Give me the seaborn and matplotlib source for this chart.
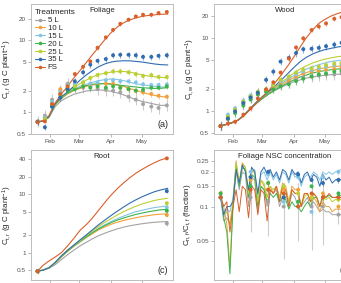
import numpy as np
import pandas as pd
import seaborn as sns
import matplotlib.pyplot as plt
from matplotlib.lines import Line2D
from matplotlib.colors import to_rgba

sns.set_style('white')
plt.rcParams['font.family'] = ['Liberation Sans', 'DejaVu Sans']
plt.rcParams['mathtext.fontset'] = 'custom'
plt.rcParams['mathtext.rm'] = 'Liberation Sans'
plt.rcParams['mathtext.it'] = 'Liberation Sans'

treatments = ['5 L', '10 L', '15 L', '20 L', '25 L', '35 L', 'FS']
colors = ['#a3a3a3', '#f2a03a', '#84c4e4', '#3cb44a', '#bccf34', '#2f6cb0', '#d8602b']
month_ticks = [32, 60, 91, 121]
month_labels = ['Feb', 'Mar', 'Apr', 'May']

# day of year for the model lines and the harvests
line_days = [19, 25, 31, 37, 43, 49, 55, 61, 67, 73, 79, 85, 91, 97, 103, 109, 115, 121, 127, 133, 139, 146]
obs_days = [20, 27, 34, 42, 49, 56, 64, 71, 78, 86, 93, 100, 108, 115, 122, 130, 137, 145]

# foliage C (g C plant-1)
fol_line = {
    '5 L': [0.74, 0.75, 0.85, 1.2, 1.45, 1.62, 1.78, 1.88, 1.98, 2.02, 2.05, 2.02, 1.96, 1.86, 1.75, 1.62, 1.5, 1.42, 1.36, 1.3, 1.25, 1.25],
    '10 L': [0.74, 0.75, 0.86, 1.28, 1.55, 1.8, 2.0, 2.15, 2.3, 2.4, 2.48, 2.52, 2.5, 2.42, 2.3, 2.15, 2.02, 1.9, 1.8, 1.72, 1.66, 1.62],
    '15 L': [0.74, 0.75, 0.86, 1.3, 1.6, 1.85, 2.1, 2.3, 2.45, 2.6, 2.75, 2.85, 2.9, 2.86, 2.76, 2.62, 2.5, 2.42, 2.36, 2.3, 2.26, 2.22],
    '20 L': [0.74, 0.75, 0.86, 1.28, 1.58, 1.85, 2.05, 2.2, 2.35, 2.45, 2.5, 2.5, 2.46, 2.4, 2.35, 2.3, 2.25, 2.2, 2.17, 2.15, 2.16, 2.2],
    '25 L': [0.74, 0.75, 0.86, 1.3, 1.62, 1.9, 2.2, 2.5, 2.8, 3.1, 3.35, 3.5, 3.62, 3.68, 3.7, 3.62, 3.48, 3.32, 3.2, 3.12, 3.06, 3.02],
    '35 L': [0.74, 0.75, 0.87, 1.32, 1.65, 1.92, 2.3, 2.8, 3.3, 3.8, 4.3, 4.7, 5.0, 5.15, 5.2, 5.2, 5.1, 5.0, 4.85, 4.7, 4.6, 4.55],
    'FS': [0.74, 0.76, 0.9, 1.35, 1.8, 2.3, 3.0, 3.8, 4.9, 6.3, 8.0, 10.2, 12.8, 15.3, 17.5, 19.2, 20.5, 21.5, 22.2, 22.6, 23.0, 23.2],
}
fol_obs = {
    '5 L': [0.74, 0.9, 1.5, 2.0, 2.5, 2.3, 2.2, 2.3, 2.1, 2.05, 2.0, 1.9, 1.65, 1.5, 1.3, 1.2, 1.15, 1.25],
    '10 L': [0.74, 0.85, 1.4, 2.1, 2.4, 2.5, 2.3, 2.4, 2.4, 2.5, 2.5, 2.2, 2.1, 2.0, 1.9, 1.8, 1.7, 1.65],
    '15 L': [0.74, 0.85, 1.4, 1.9, 2.4, 2.5, 2.6, 2.5, 2.6, 2.8, 2.8, 2.7, 2.7, 2.6, 2.45, 2.4, 2.4, 2.45],
    '20 L': [0.74, 0.8, 1.2, 1.7, 2.0, 2.1, 2.3, 2.2, 2.3, 2.2, 2.3, 2.2, 2.1, 2.0, 2.05, 2.2, 2.2, 2.3],
    '25 L': [0.74, 0.8, 1.3, 1.8, 2.2, 2.3, 2.6, 3.0, 3.3, 3.5, 3.7, 3.7, 3.6, 3.4, 3.2, 3.3, 3.1, 3.1],
    '35 L': [0.74, 0.62, 1.2, 1.6, 2.1, 2.7, 3.6, 4.6, 5.2, 5.5, 6.2, 6.3, 6.3, 6.2, 5.9, 5.9, 6.1, 6.2],
    'FS': [0.73, 0.75, 1.3, 1.8, 2.3, 3.4, 4.3, 5.1, 7.9, 11.0, 14.0, 17.0, 19.4, 21.5, 22.7, 22.7, 24.0, 24.8],
}
fol_err = [0.2, 0.1, 0.1, 0.08, 0.1, 0.1, 0.06]

# wood C
wood_line = {
    '5 L': [0.63, 0.66, 0.7, 0.76, 0.9, 1.08, 1.3, 1.52, 1.74, 1.95, 2.15, 2.35, 2.55, 2.7, 2.85, 2.95, 3.05, 3.12, 3.18, 3.22, 3.25, 3.28],
    '10 L': [0.63, 0.66, 0.7, 0.76, 0.9, 1.1, 1.34, 1.58, 1.82, 2.05, 2.3, 2.6, 2.9, 3.15, 3.4, 3.6, 3.8, 3.95, 4.05, 4.15, 4.2, 4.25],
    '15 L': [0.63, 0.66, 0.7, 0.76, 0.9, 1.1, 1.35, 1.6, 1.86, 2.1, 2.4, 2.75, 3.1, 3.45, 3.8, 4.1, 4.35, 4.6, 4.8, 4.95, 5.05, 5.1],
    '20 L': [0.63, 0.66, 0.7, 0.76, 0.9, 1.08, 1.3, 1.52, 1.75, 1.98, 2.2, 2.45, 2.7, 2.95, 3.15, 3.35, 3.5, 3.62, 3.72, 3.8, 3.85, 3.9],
    '25 L': [0.63, 0.66, 0.7, 0.76, 0.9, 1.1, 1.35, 1.6, 1.88, 2.15, 2.5, 2.9, 3.35, 3.8, 4.2, 4.6, 4.9, 5.2, 5.4, 5.6, 5.75, 5.85],
    '35 L': [0.63, 0.66, 0.7, 0.76, 0.9, 1.1, 1.35, 1.62, 1.9, 2.25, 2.7, 3.3, 4.0, 4.8, 5.5, 6.1, 6.6, 7.0, 7.3, 7.6, 7.8, 8.0],
    'FS': [0.62, 0.66, 0.7, 0.76, 0.88, 1.08, 1.32, 1.6, 1.96, 2.5, 3.2, 4.2, 5.6, 7.6, 10.2, 13.0, 16.0, 18.2, 20.2, 21.8, 23.2, 24.5],
}
wood_obs = {
    '5 L': [0.63, 0.78, 1.0, 1.25, 1.55, 1.75, 1.9, 2.1, 2.3, 2.5, 2.8, 2.9, 3.0, 3.1, 3.2, 3.2, 3.3, 3.3],
    '10 L': [0.63, 0.85, 1.05, 1.35, 1.6, 1.8, 1.95, 2.2, 2.5, 2.7, 3.0, 3.3, 3.5, 3.6, 3.7, 3.8, 4.0, 4.1],
    '15 L': [0.63, 0.9, 1.1, 1.4, 1.65, 1.85, 2.0, 2.3, 2.6, 2.9, 3.2, 3.5, 3.7, 3.9, 4.1, 4.3, 4.4, 4.6],
    '20 L': [0.63, 0.8, 0.95, 1.2, 1.45, 1.7, 1.85, 2.0, 2.2, 2.35, 2.6, 2.8, 3.0, 3.2, 3.3, 3.5, 3.6, 3.7],
    '25 L': [0.63, 0.85, 1.05, 1.35, 1.6, 1.85, 2.0, 2.3, 2.7, 3.0, 3.4, 3.7, 3.9, 4.1, 4.3, 4.5, 4.6, 4.8],
    '35 L': [0.63, 0.8, 1.0, 1.3, 1.55, 1.8, 2.7, 3.5, 4.8, 5.4, 6.3, 7.1, 7.2, 7.4, 7.8, 8.2, 8.7, 8.6],
    'FS': [0.63, 0.68, 0.72, 0.9, 1.1, 1.5, 2.0, 2.5, 3.4, 5.3, 7.5, 10.0, 13.0, 14.5, 16.0, 18.5, 19.5, 21.0],
}
wood_err = [0.18, 0.12, 0.12, 0.12, 0.12, 0.12, 0.08]

# root C: only start and final harvest
root_line = {
    '5 L': [0.48, 0.5, 0.54, 0.62, 0.76, 0.92, 1.1, 1.3, 1.5, 1.72, 1.95, 2.15, 2.35, 2.55, 2.72, 2.88, 3.0, 3.12, 3.22, 3.3, 3.36, 3.4],
    '10 L': [0.48, 0.5, 0.55, 0.66, 0.84, 1.05, 1.28, 1.52, 1.8, 2.1, 2.45, 2.75, 3.05, 3.3, 3.55, 3.75, 3.95, 4.15, 4.3, 4.45, 4.55, 4.6],
    '15 L': [0.48, 0.5, 0.55, 0.67, 0.86, 1.07, 1.3, 1.55, 1.85, 2.2, 2.6, 3.0, 3.4, 3.8, 4.2, 4.6, 5.0, 5.3, 5.6, 5.9, 6.1, 6.3],
    '20 L': [0.48, 0.5, 0.55, 0.67, 0.86, 1.07, 1.3, 1.55, 1.85, 2.2, 2.55, 2.9, 3.25, 3.6, 3.9, 4.2, 4.5, 4.75, 5.0, 5.2, 5.4, 5.5],
    '25 L': [0.48, 0.5, 0.55, 0.68, 0.88, 1.1, 1.33, 1.6, 1.95, 2.35, 2.8, 3.3, 3.8, 4.4, 5.0, 5.6, 6.2, 6.8, 7.3, 7.8, 8.2, 8.5],
    '35 L': [0.48, 0.5, 0.55, 0.68, 0.88, 1.1, 1.35, 1.65, 2.0, 2.45, 3.0, 3.6, 4.3, 5.1, 6.0, 7.0, 8.0, 9.0, 10.0, 11.0, 11.8, 12.6],
    'FS': [0.46, 0.6, 0.72, 0.84, 1.0, 1.3, 1.75, 2.4, 3.0, 3.9, 5.3, 7.2, 9.6, 12.4, 15.5, 19.0, 22.8, 26.5, 30.5, 34.5, 38.5, 42.0],
}
root_obs_days = [20, 145]
root_obs = {
    '5 L': [0.48, 3.15], '10 L': [0.48, 4.4], '15 L': [0.48, 5.9], '20 L': [0.48, 5.2],
    '25 L': [0.48, 7.0], '35 L': [0.48, 11.3], 'FS': [0.48, 41.0],
}
root_err = [0.12, 0.08, 0.08, 0.08, 0.08, 0.06, 0.04]

# foliage NSC fraction
nsc_days = [20, 23, 26, 29, 32, 35, 38, 41, 44, 47, 50, 53, 56, 59, 62, 65, 68, 71, 74, 77,
            80, 83, 86, 89, 92, 95, 98, 101, 104, 107, 110, 113, 116, 119, 122, 125, 128, 131, 134, 137]
nsc_line = {
    '5 L': [0.12, 0.075, 0.08, 0.07, 0.1, 0.2, 0.14, 0.2, 0.19, 0.1, 0.18, 0.17, 0.09, 0.15, 0.14, 0.1, 0.14, 0.13, 0.14, 0.1,
            0.12, 0.13, 0.1, 0.13, 0.12, 0.1, 0.1, 0.11, 0.12, 0.1, 0.11, 0.1, 0.09, 0.095, 0.09, 0.09, 0.085, 0.085, 0.085, 0.085],
    '10 L': [0.125, 0.1, 0.07, 0.03, 0.11, 0.25, 0.16, 0.24, 0.22, 0.12, 0.21, 0.2, 0.1, 0.17, 0.15, 0.12, 0.15, 0.13, 0.15, 0.12,
             0.16, 0.15, 0.11, 0.15, 0.14, 0.14, 0.1, 0.13, 0.13, 0.11, 0.12, 0.11, 0.09, 0.11, 0.1, 0.1, 0.09, 0.095, 0.095, 0.095],
    '15 L': [0.12, 0.08, 0.095, 0.09, 0.12, 0.22, 0.15, 0.22, 0.21, 0.13, 0.2, 0.21, 0.12, 0.19, 0.2, 0.17, 0.2, 0.17, 0.19, 0.16,
             0.2, 0.19, 0.16, 0.2, 0.18, 0.19, 0.15, 0.18, 0.19, 0.18, 0.2, 0.19, 0.17, 0.2, 0.19, 0.2, 0.19, 0.2, 0.205, 0.21],
    '20 L': [0.13, 0.08, 0.06, 0.026, 0.1, 0.23, 0.15, 0.22, 0.21, 0.12, 0.19, 0.18, 0.1, 0.15, 0.14, 0.11, 0.13, 0.12, 0.13, 0.11,
             0.12, 0.115, 0.095, 0.11, 0.1, 0.1, 0.09, 0.1, 0.11, 0.1, 0.12, 0.12, 0.1, 0.12, 0.12, 0.125, 0.12, 0.12, 0.125, 0.125],
    '25 L': [0.125, 0.085, 0.09, 0.07, 0.11, 0.24, 0.16, 0.23, 0.22, 0.13, 0.2, 0.2, 0.11, 0.17, 0.16, 0.12, 0.15, 0.14, 0.15, 0.12,
             0.15, 0.14, 0.11, 0.14, 0.13, 0.13, 0.1, 0.12, 0.13, 0.11, 0.13, 0.12, 0.1, 0.12, 0.115, 0.12, 0.11, 0.115, 0.115, 0.115],
    '35 L': [0.12, 0.085, 0.1, 0.1, 0.11, 0.21, 0.16, 0.23, 0.2, 0.14, 0.22, 0.2, 0.13, 0.2, 0.22, 0.19, 0.21, 0.18, 0.2, 0.17,
             0.21, 0.2, 0.17, 0.21, 0.19, 0.2, 0.16, 0.19, 0.2, 0.17, 0.19, 0.18, 0.15, 0.19, 0.17, 0.18, 0.16, 0.17, 0.175, 0.17],
    'FS': [0.12, 0.1, 0.11, 0.06, 0.1, 0.14, 0.09, 0.15, 0.14, 0.08, 0.15, 0.14, 0.085, 0.14, 0.13, 0.075, 0.14, 0.13, 0.15, 0.11,
           0.15, 0.14, 0.1, 0.14, 0.13, 0.13, 0.1, 0.13, 0.13, 0.11, 0.13, 0.12, 0.1, 0.13, 0.12, 0.13, 0.12, 0.12, 0.12, 0.12],
}
nsc_obs_days = [20, 49, 66, 81, 95, 108, 119, 134]
nsc_obs = {
    '5 L': [0.12, 0.12, 0.11, 0.1, 0.1, 0.1, 0.1, 0.085],
    '10 L': [0.13, 0.17, 0.16, 0.14, 0.14, 0.12, 0.13, 0.1],
    '15 L': [0.12, 0.2, 0.19, 0.11, 0.18, 0.09, 0.18, 0.2],
    '20 L': [0.13, 0.15, 0.16, 0.12, 0.11, 0.15, 0.12, 0.13],
    '25 L': [0.12, 0.18, 0.14, 0.15, 0.13, 0.12, 0.12, 0.115],
    '35 L': [0.12, 0.18, 0.2, 0.12, 0.19, 0.17, 0.16, 0.17],
    'FS': [0.12, 0.14, 0.14, 0.13, 0.1, 0.13, 0.12, 0.12],
}
nsc_err = [0.08, 0.06, 0.06, 0.06, 0.06, 0.06, 0.06]
# the 5 L harvests had very wide ranges
nsc_grey_lo = [0.1, 0.06, 0.055, 0.035, 0.05, 0.042, 0.046, 0.07]
nsc_grey_hi = [0.14, 0.2, 0.17, 0.16, 0.16, 0.15, 0.16, 0.1]

pal = dict(zip(treatments, colors))


def to_long(days, series):
    rows = []
    for t in treatments:
        for d, v in zip(days, series[t]):
            rows.append((t, d, v))
    return pd.DataFrame(rows, columns=['trt', 'day', 'val'])


def draw(ax, lines_days, lines, pdays, pts, err, grey_band=None, lw=0.8):
    df = to_long(lines_days, lines)
    sns.lineplot(data=df, x='day', y='val', hue='trt', hue_order=treatments, palette=pal,
                 estimator=None, sort=False, linewidth=lw, legend=False, ax=ax)
    for i, t in enumerate(treatments):
        v = np.array(pts[t])
        if grey_band is not None and t == '5 L':
            lo = v - np.array(grey_band[0])
            hi = np.array(grey_band[1]) - v
        else:
            lo = v - v / (1 + err[i])
            hi = v * err[i]
        ax.errorbar(pdays, v, yerr=[lo, hi], fmt='none', ecolor=to_rgba(colors[i], 0.55),
                    elinewidth=0.8, capsize=0, zorder=3)
    pdf = to_long(pdays, pts)
    sns.scatterplot(data=pdf, x='day', y='val', hue='trt', hue_order=treatments, palette=pal,
                    s=8, linewidth=0, legend=False, ax=ax, zorder=4)


def style(ax, ylim, yticks, ylabels, title, label, ylab, xlabels=True):
    ax.set_yscale('log')
    ax.set_ylim(*ylim)
    ax.set_xlim(13.6, 151)
    ax.set_yticks(yticks)
    ax.set_yticklabels(ylabels)
    ax.minorticks_off()
    ax.set_xticks(month_ticks)
    ax.set_xticklabels(month_labels if xlabels else [])
    ax.tick_params(axis='both', labelsize=4.6, colors='#9a9a9a', labelcolor='#555555',
                   length=2, width=0.5, pad=1.5, left=True, bottom=True)
    for s in ax.spines.values():
        s.set_color('#bdbdbd')
        s.set_linewidth(0.7)
    ax.set_xlabel('')
    ax.set_ylabel(ylab, fontsize=5.8, labelpad=2.5)
    ax.text(0.5, 0.975, title, transform=ax.transAxes, ha='center', va='top', fontsize=5.6)
    ax.text(0.965, 0.04, label, transform=ax.transAxes, ha='right', va='bottom', fontsize=6.5)


fig = plt.figure(figsize=(3.41, 2.83), dpi=100)
w, h = 142 / 341, 130 / 283
ax_a = fig.add_axes([31 / 341, 1 - 134 / 283, w, h])
ax_b = fig.add_axes([214 / 341, 1 - 134 / 283, w, h])
ax_c = fig.add_axes([31 / 341, 1 - 280 / 283, w, h])
ax_d = fig.add_axes([214 / 341, 1 - 280 / 283, w, h])

draw(ax_a, line_days, fol_line, obs_days, fol_obs, fol_err)
style(ax_a, (0.5, 32), [0.5, 1, 2, 5, 10, 20], ['0.5', '1', '2', '5', '10', '20'],
      'Foliage', '(a)', r'C$_{t,f}$ (g C plant$^{-1}$)')

draw(ax_b, line_days, wood_line, obs_days, wood_obs, wood_err)
style(ax_b, (0.49, 29.5), [0.5, 1, 2, 5, 10, 20], ['0.5', '1', '2', '5', '10', '20'],
      'Wood', '(b)', r'C$_{t,w}$ (g C plant$^{-1}$)')

draw(ax_c, line_days, root_line, root_obs_days, root_obs, root_err)
style(ax_c, (0.34, 57), [0.5, 1, 2, 5, 10, 20, 40], ['0.5', '1', '2', '5', '10', '20', '40'],
      'Root', '(c)', r'C$_{t,r}$ (g C plant$^{-1}$)', xlabels=False)

draw(ax_d, nsc_days, nsc_line, nsc_obs_days, nsc_obs, nsc_err,
     grey_band=(nsc_grey_lo, nsc_grey_hi), lw=0.7)
style(ax_d, (0.023, 0.31), [0.05, 0.1, 0.15, 0.2, 0.25], ['0.05', '0.1', '0.15', '0.2', '0.25'],
      'Foliage NSC concentration', '(d)', r'C$_{n,f}$/C$_{t,f}$ (fraction)', xlabels=False)

handles = [Line2D([0], [0], color=c, lw=0.8, marker='o', ms=2.6, mew=0) for c in colors]
leg = ax_a.legend(handles, treatments, title='Treatments', loc='upper left', frameon=False,
                  bbox_to_anchor=(0.0, 0.985),
                  fontsize=5.6, title_fontsize=5.9, handlelength=1.3, handletextpad=0.4,
                  labelspacing=0.05, borderaxespad=0.25, borderpad=0.2)
leg._legend_box.align = 'left'

fig.savefig('out.png', dpi=100)
